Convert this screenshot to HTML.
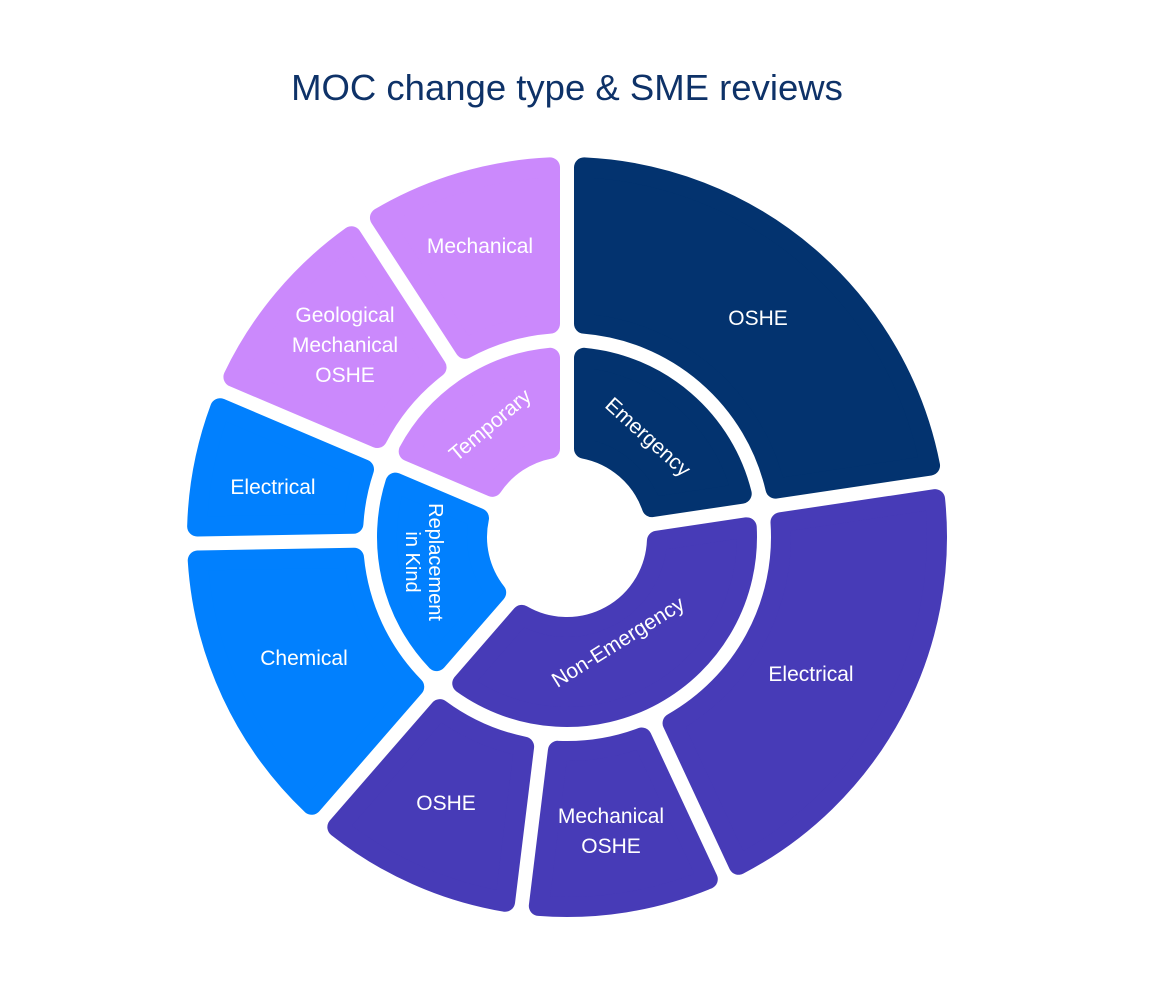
<!DOCTYPE html>
<html><head><meta charset="utf-8"><style>
html,body{margin:0;padding:0;background:#fff;}
svg{display:block;}
text{font-family:"Liberation Sans",sans-serif;fill:#fff;font-size:21px;text-anchor:middle;}
</style></head><body>
<svg id="s" width="1159" height="1001" viewBox="0 0 1159 1001">
<g id="segs"></g>
<text x="567" y="100" style="font-size:36.5px;fill:#0e3268">MOC change type &amp; SME reviews</text>
<text x="758" y="325">OSHE</text>
<text x="811" y="681">Electrical</text>
<text x="611" y="823">Mechanical</text>
<text x="611" y="853">OSHE</text>
<text x="446" y="810">OSHE</text>
<text x="304" y="665">Chemical</text>
<text x="273" y="494">Electrical</text>
<text x="345" y="322">Geological</text>
<text x="345" y="352">Mechanical</text>
<text x="345" y="382">OSHE</text>
<text x="480" y="253">Mechanical</text>
<text transform="translate(648,437) rotate(42)" y="7">Emergency</text>
<text transform="translate(490,425) rotate(-40)" y="7">Temporary</text>
<text transform="translate(618,642) rotate(-32)" y="7">Non-Emergency</text>
<text transform="translate(425,562) rotate(90)" y="-4" style="font-size:20px">Replacement</text>
<text transform="translate(425,562) rotate(90)" y="19" style="font-size:20px">in Kind</text>
</svg>
<script>
var cx=567,cy=537,R=10,H=7;
function pt(a,r){var t=a*Math.PI/180;return [cx+r*Math.sin(t),cy-r*Math.cos(t)];}
function seg(a0,a1,r0,r1,c){
 var ri=r0+R,ro=r1-R,d=R+H;
 var ao0=a0+Math.asin(d/ro)*180/Math.PI,ao1=a1-Math.asin(d/ro)*180/Math.PI;
 var ai0=a0+Math.asin(d/ri)*180/Math.PI,ai1=a1-Math.asin(d/ri)*180/Math.PI;
 var p1=pt(ao0,ro),p2=pt(ao1,ro),p3=pt(ai1,ri),p4=pt(ai0,ri);
 var lo=(ao1-ao0)>180?1:0,li=(ai1-ai0)>180?1:0;
 var d="M"+p1+" A"+ro+","+ro+" 0 "+lo+" 1 "+p2+" L"+p3+" A"+ri+","+ri+" 0 "+li+" 0 "+p4+" Z";
 return '<path d="'+d+'" fill="'+c+'" stroke="'+c+'" stroke-width="'+(2*R)+'" stroke-linejoin="round"/>';
}
var N="#03336f",P="#473bb7",B="#0180fe",L="#cb89fc";
var h="";
var inner=[[0,81.5,N],[81.5,221,P],[221,293,B],[293,360,L]];
var outer=[[0,81.5,N],[81.5,155,P],[155,187,P],[187,221,P],[221,269,B],[269,293,B],[293,327,L],[327,360,L]];
inner.forEach(function(s){h+=seg(s[0],s[1],80,190,s[2]);});
outer.forEach(function(s){h+=seg(s[0],s[1],204,380,s[2]);});
document.getElementById("segs").innerHTML=h;
</script>
</body></html>
